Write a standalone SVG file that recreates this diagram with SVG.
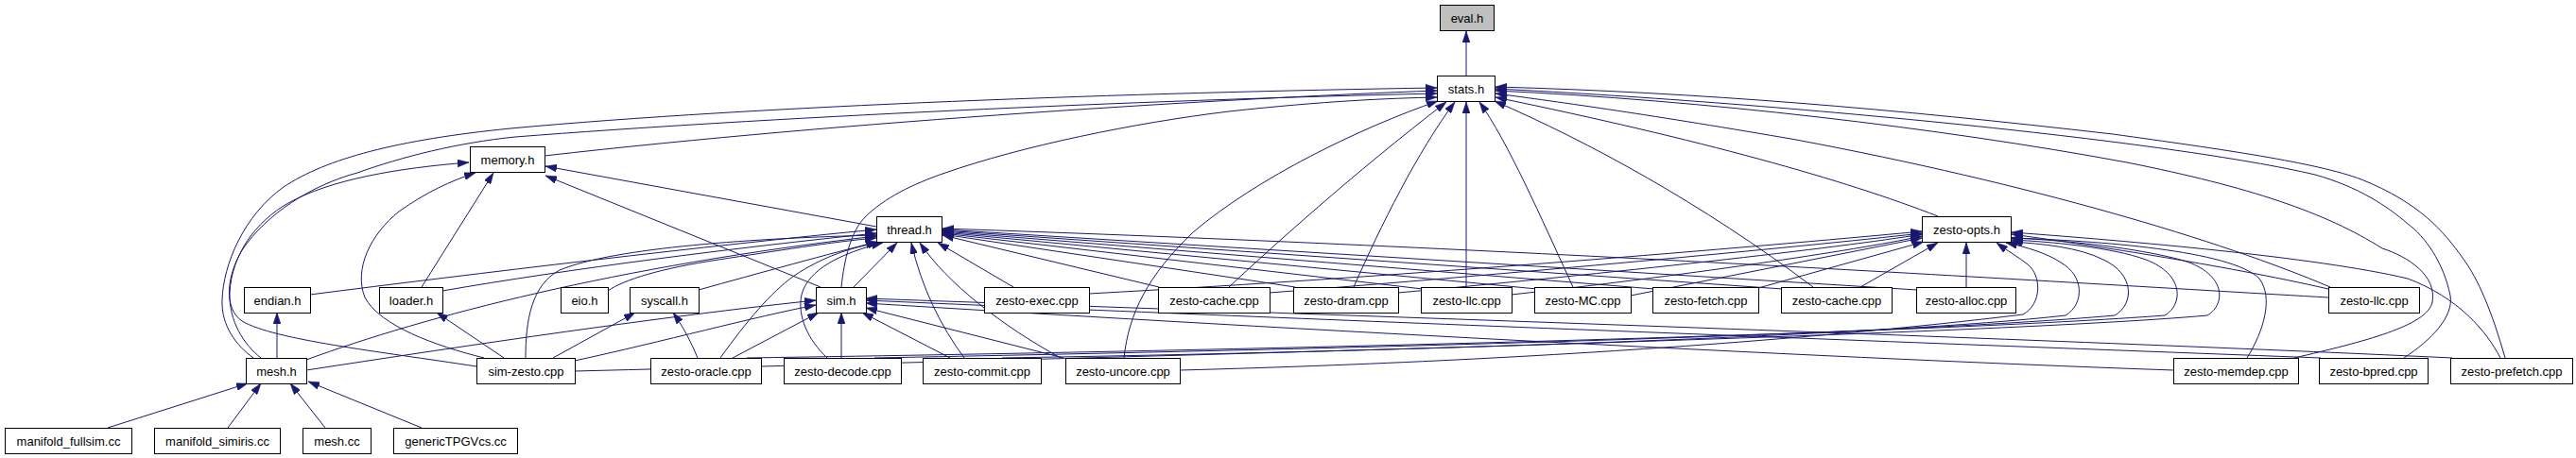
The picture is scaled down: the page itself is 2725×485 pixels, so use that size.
<svg xmlns="http://www.w3.org/2000/svg" width="2725" height="485" viewBox="0 0 2725 485">
<style>
.n rect{fill:#fff;stroke:#000;stroke-width:1}
.n text{font-family:"Liberation Sans",Arial,sans-serif;font-size:13px;text-anchor:middle;fill:#000}
#eval rect{fill:#bfbfbf}
#edges path{fill:none;stroke:#191970;stroke-width:1;marker-end:url(#ah)}
</style>
<defs>
<marker id="ah" markerUnits="userSpaceOnUse" markerWidth="12" markerHeight="8" refX="12" refY="4" orient="auto">
<path d="M0,0 L12,4 L0,8 z" fill="#191970" stroke="#191970" stroke-width="0.5"/>
</marker>
</defs>
<rect width="2725" height="485" fill="#fff"/>
<g id="edges">
<path d="M1551,80 L1551,33"/>
<path d="M576,165 C900,128 1300,104 1520,96"/>
<path d="M268,379 C250,366 234,345 235,318 C236,280 258,228 300,198 C345,168 420,148 540,136 C800,112 1200,98 1520,93"/>
<path d="M504,388 C400,372 290,360 256,340 C236,326 240,292 256,265 C282,226 330,196 378,183 C425,166 485,151 545,145 C800,125 1200,106 1520,99"/>
<path d="M890,304 C893,275 900,245 915,230 C935,210 965,195 1000,183 C1080,155 1200,130 1300,118 C1400,107 1470,104 1520,103"/>
<path d="M1189,379 C1194,332 1214,292 1262,246 C1330,188 1440,135 1521,107"/>
<path d="M1300,304 C1345,262 1430,185 1530,108"/>
<path d="M1432,304 C1460,240 1500,160 1539,108"/>
<path d="M1551,304 L1551,108"/>
<path d="M1664,304 C1630,230 1595,150 1565,108"/>
<path d="M1918,304 C1800,215 1680,150 1581,107"/>
<path d="M2050,229 C1950,190 1800,148 1582,103"/>
<path d="M2465,304 C2350,255 2150,195 1900,148 C1750,122 1650,108 1582,99"/>
<path d="M2427,379 C2500,362 2568,345 2573,320 C2578,292 2548,272 2520,263 C2460,225 2380,198 2250,172 C2050,135 1800,106 1582,96"/>
<path d="M2543,379 C2572,360 2596,335 2592,313 C2585,278 2565,250 2547,237 C2525,218 2495,198 2449,185 C2300,150 1900,110 1582,94"/>
<path d="M2650,379 C2636,330 2622,296 2605,273 C2585,245 2560,215 2498,190 C2450,172 2350,158 2235,142 C2000,115 1800,98 1582,92"/>
<path d="M927,240 L577,176"/>
<path d="M868,304 L577,186"/>
<path d="M446,304 L522,183"/>
<path d="M512,379 C460,366 402,345 386,315 C374,285 392,248 422,224 C450,204 478,191 503,183"/>
<path d="M276,379 C258,365 242,340 243,310 C245,270 270,235 305,215 C350,190 420,178 496,172"/>
<path d="M328,312 C500,290 750,260 927,243"/>
<path d="M468,308 C600,285 780,262 927,247"/>
<path d="M324,381 C450,335 650,282 927,250"/>
<path d="M643,308 C660,296 700,284 760,275 C820,266 880,256 927,252"/>
<path d="M739,307 C800,290 880,268 928,256"/>
<path d="M556,379 C556,340 562,302 592,286 C650,262 800,252 927,249"/>
<path d="M903,304 L949,257"/>
<path d="M762,379 C790,340 815,310 840,292 C870,272 900,262 930,257"/>
<path d="M875,379 C855,360 843,335 848,312 C855,285 890,268 934,257"/>
<path d="M1020,379 C995,345 975,305 964,257"/>
<path d="M1122,379 C1060,345 1002,300 973,257"/>
<path d="M1072,304 L992,257"/>
<path d="M1226,304 L997,249"/>
<path d="M1370,304 L997,248"/>
<path d="M1505,306 L997,247"/>
<path d="M1626,306 L997,246"/>
<path d="M1750,306 L997,245"/>
<path d="M1886,306 L997,244"/>
<path d="M2028,307 L997,243"/>
<path d="M2463,315 C2200,300 1600,262 997,242"/>
<path d="M324,392 C500,365 700,335 863,318"/>
<path d="M608,382 C700,362 800,335 863,323"/>
<path d="M775,379 L866,331"/>
<path d="M890,379 L890,331"/>
<path d="M1005,379 L912,331"/>
<path d="M1125,379 L916,326"/>
<path d="M2299,392 C1900,378 1300,345 916,321"/>
<path d="M2455,379 C2000,362 1300,335 916,318"/>
<path d="M2594,379 C2100,356 1300,330 916,316"/>
<path d="M1152,311 C1500,292 1850,262 2033,245"/>
<path d="M1343,310 C1600,290 1900,262 2033,247"/>
<path d="M1479,310 C1700,290 1950,262 2033,248"/>
<path d="M1599,312 C1800,290 1980,262 2033,250"/>
<path d="M1725,313 L2033,252"/>
<path d="M1860,305 L2035,256"/>
<path d="M1968,304 L2050,257"/>
<path d="M2080,304 L2080,257"/>
<path d="M2463,306 C2350,280 2200,258 2128,248"/>
<path d="M2377,379 C2395,350 2405,315 2390,295 C2360,265 2220,255 2128,252"/>
<path d="M2645,379 C2630,350 2600,315 2547,295 C2450,272 2250,255 2128,246"/>
<path d="M1248,392 C1700,380 2000,350 2140,333 C2160,322 2160,292 2145,280 C2135,272 2124,266 2112,257"/>
<path d="M1060,379 C1500,372 2000,355 2185,334 C2205,322 2205,292 2180,278 C2165,268 2145,262 2122,257"/>
<path d="M925,379 C1400,370 2000,355 2237,334 C2258,322 2258,290 2225,275 C2200,262 2160,258 2127,256"/>
<path d="M790,379 C1400,370 2050,352 2290,334 C2310,322 2310,290 2270,275 C2235,262 2170,256 2128,254"/>
<path d="M608,393 C1200,378 2100,355 2335,334 C2355,322 2355,290 2310,276 C2260,262 2180,254 2128,252"/>
<path d="M585,379 L672,331"/>
<path d="M738,379 C730,360 722,345 712,331"/>
<path d="M533,379 L462,331"/>
<path d="M293,379 L293,331"/>
<path d="M114,453 L262,406"/>
<path d="M241,453 L276,406"/>
<path d="M344,453 L307,406"/>
<path d="M446,453 L326,404"/>
</g>
<g id="eval" class="n"><rect x="1523.5" y="5.5" width="57" height="27"/><text x="1552" y="23.5">eval.h</text></g>
<g id="stats" class="n"><rect x="1520.5" y="80.5" width="61" height="27"/><text x="1551" y="98.5">stats.h</text></g>
<g id="memory" class="n"><rect x="497.5" y="155.5" width="79" height="27"/><text x="537" y="173.5">memory.h</text></g>
<g id="thread" class="n"><rect x="927.5" y="229.5" width="69" height="27"/><text x="962" y="247.5">thread.h</text></g>
<g id="zesto_opts_h" class="n"><rect x="2033.5" y="229.5" width="94" height="27"/><text x="2080.5" y="247.5">zesto-opts.h</text></g>
<g id="endian" class="n"><rect x="258.5" y="304.5" width="70" height="27"/><text x="293.5" y="322.5">endian.h</text></g>
<g id="loader" class="n"><rect x="401.5" y="304.5" width="67" height="27"/><text x="435" y="322.5">loader.h</text></g>
<g id="eio" class="n"><rect x="593.5" y="304.5" width="50" height="27"/><text x="618.5" y="322.5">eio.h</text></g>
<g id="syscall" class="n"><rect x="666.5" y="304.5" width="73" height="27"/><text x="703" y="322.5">syscall.h</text></g>
<g id="sim_h" class="n"><rect x="863.5" y="304.5" width="53" height="27"/><text x="890" y="322.5">sim.h</text></g>
<g id="zesto_exec" class="n"><rect x="1041.5" y="304.5" width="111" height="27"/><text x="1097" y="322.5">zesto-exec.cpp</text></g>
<g id="zesto_cache_1" class="n"><rect x="1225.5" y="304.5" width="118" height="27"/><text x="1284.5" y="322.5">zesto-cache.cpp</text></g>
<g id="zesto_dram" class="n"><rect x="1368.5" y="304.5" width="111" height="27"/><text x="1424" y="322.5">zesto-dram.cpp</text></g>
<g id="zesto_llc_1" class="n"><rect x="1503.5" y="304.5" width="96" height="27"/><text x="1551.5" y="322.5">zesto-llc.cpp</text></g>
<g id="zesto_MC" class="n"><rect x="1623.5" y="304.5" width="102" height="27"/><text x="1674.5" y="322.5">zesto-MC.cpp</text></g>
<g id="zesto_fetch" class="n"><rect x="1748.5" y="304.5" width="112" height="27"/><text x="1804.5" y="322.5">zesto-fetch.cpp</text></g>
<g id="zesto_cache_2" class="n"><rect x="1884.5" y="304.5" width="117" height="27"/><text x="1943" y="322.5">zesto-cache.cpp</text></g>
<g id="zesto_alloc" class="n"><rect x="2027.5" y="304.5" width="105" height="27"/><text x="2080" y="322.5">zesto-alloc.cpp</text></g>
<g id="zesto_llc_2" class="n"><rect x="2463.5" y="304.5" width="96" height="27"/><text x="2511.5" y="322.5">zesto-llc.cpp</text></g>
<g id="mesh_h" class="n"><rect x="260.5" y="379.5" width="64" height="27"/><text x="292.5" y="397.5">mesh.h</text></g>
<g id="sim_zesto" class="n"><rect x="504.5" y="379.5" width="104" height="27"/><text x="556.5" y="397.5">sim-zesto.cpp</text></g>
<g id="zesto_oracle" class="n"><rect x="688.5" y="379.5" width="117" height="27"/><text x="747" y="397.5">zesto-oracle.cpp</text></g>
<g id="zesto_decode" class="n"><rect x="829.5" y="379.5" width="124" height="27"/><text x="891.5" y="397.5">zesto-decode.cpp</text></g>
<g id="zesto_commit" class="n"><rect x="976.5" y="379.5" width="125" height="27"/><text x="1039" y="397.5">zesto-commit.cpp</text></g>
<g id="zesto_uncore" class="n"><rect x="1127.5" y="379.5" width="121" height="27"/><text x="1188" y="397.5">zesto-uncore.cpp</text></g>
<g id="zesto_memdep" class="n"><rect x="2299.5" y="379.5" width="132" height="27"/><text x="2365.5" y="397.5">zesto-memdep.cpp</text></g>
<g id="zesto_bpred" class="n"><rect x="2453.5" y="379.5" width="115" height="27"/><text x="2511" y="397.5">zesto-bpred.cpp</text></g>
<g id="zesto_prefetch" class="n"><rect x="2592.5" y="379.5" width="129" height="27"/><text x="2657" y="397.5">zesto-prefetch.cpp</text></g>
<g id="manifold_fullsim" class="n"><rect x="5.5" y="453.5" width="134" height="27"/><text x="72.5" y="471.5">manifold_fullsim.cc</text></g>
<g id="manifold_simiris" class="n"><rect x="163.5" y="453.5" width="133" height="27"/><text x="230" y="471.5">manifold_simiris.cc</text></g>
<g id="mesh_cc" class="n"><rect x="320.5" y="453.5" width="72" height="27"/><text x="356.5" y="471.5">mesh.cc</text></g>
<g id="genericTPGVcs" class="n"><rect x="416.5" y="453.5" width="131" height="27"/><text x="482" y="471.5">genericTPGVcs.cc</text></g>
</svg>
